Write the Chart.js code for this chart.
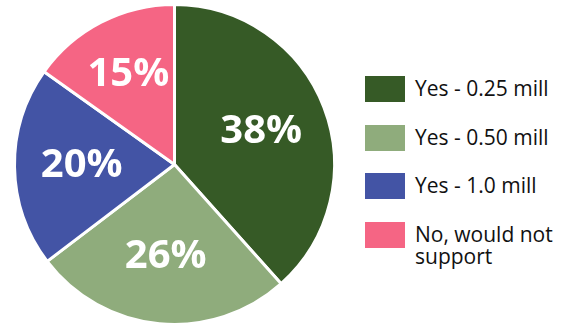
<!DOCTYPE html>
<html>
<head>
<meta charset="utf-8">
<script src="https://cdn.jsdelivr.net/npm/chart.js@4.4.1/dist/chart.umd.min.js"></script>
<style>
  html, body { margin: 0; padding: 0; background: #fff; }
  #wrap { position: relative; width: 566px; height: 326px; }
  #chart-wrap { position: absolute; left: 0; top: 0; width: 350px; height: 326px; }
  #legend { position: absolute; left: 365px; top: 76px; font-family: "Open Sans", sans-serif; font-size: 21px; color: #111; }
  .item { display: flex; align-items: flex-start; height: 48.6px; }
  .box { width: 40px; height: 26px; flex: none; }
  .txt { margin-left: 10px; line-height: 22px; margin-top: 1px; }
</style>
</head>
<body>
<div id="wrap">
  <div id="chart-wrap"><canvas id="chart-pie"></canvas></div>
  <div id="legend"></div>
</div>
<script>
const labels = ['Yes - 0.25 mill', 'Yes - 0.50 mill', 'Yes - 1.0 mill', 'No, would not\nsupport'];
const values = [38, 26, 20, 15];
const colors = ['#365a26', '#8fac7c', '#4354a5', '#f56584'];

// percent labels inside each slice
const sliceLabels = {
  id: 'sliceLabels',
  afterDatasetsDraw(chart) {
    const { ctx } = chart;
    const meta = chart.getDatasetMeta(0);
    ctx.save();
    ctx.font = 'bold 40px "Open Sans", sans-serif';
    ctx.fillStyle = '#fff';
    ctx.textAlign = 'center';
    ctx.textBaseline = 'middle';
    meta.data.forEach((arc, i) => {
      const { x, y, startAngle, endAngle, outerRadius } = arc.getProps(['x', 'y', 'startAngle', 'endAngle', 'outerRadius'], true);
      const mid = (startAngle + endAngle) / 2;
      const r = outerRadius * (values[i] < 18 ? 0.63 : 0.58);
      ctx.fillText(`${values[i]}%`, x + Math.cos(mid) * r, y + Math.sin(mid) * r);
    });
    ctx.restore();
  }
};

new Chart(document.getElementById('chart-pie'), {
  type: 'pie',
  data: {
    labels,
    datasets: [{
      data: values,
      backgroundColor: colors,
      borderColor: '#fff',
      borderWidth: 3
    }]
  },
  options: {
    responsive: true,
    maintainAspectRatio: false,
    animation: false,
    layout: { padding: { left: 13, right: 14, top: 3, bottom: 0 } },
    plugins: {
      legend: { display: false },
      tooltip: { enabled: false }
    }
  },
  plugins: [sliceLabels]
});

const legend = document.getElementById('legend');
labels.forEach((label, i) => {
  const item = document.createElement('div');
  item.className = 'item';
  const box = document.createElement('div');
  box.className = 'box';
  box.style.background = colors[i];
  const txt = document.createElement('div');
  txt.className = 'txt';
  txt.innerHTML = label.split('\n').join('<br>');
  item.appendChild(box);
  item.appendChild(txt);
  legend.appendChild(item);
});
</script>
</body>
</html>
